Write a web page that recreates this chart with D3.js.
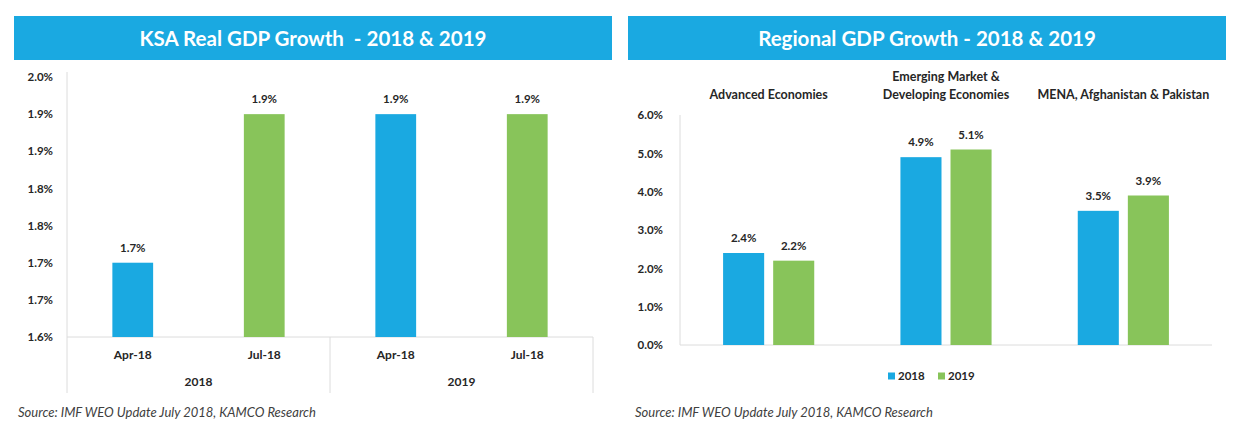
<!DOCTYPE html>
<head>
<meta charset="utf-8">
<style>
body { margin: 0; background: #fff; }
svg { display: block; }
text { font-family: Lato, "Open Sans", sans-serif; font-weight: bold; fill: #262626; }
.title { fill: #fff; font-size: 20.5px; white-space: pre; }
.tick text { font-size: 11.5px; }
.val { font-size: 11.5px; text-anchor: middle; }
.cat { font-size: 12px; text-anchor: middle; }
.head { font-size: 12.5px; }
.src { font-size: 13px; font-style: italic; font-weight: normal; fill: #404040; }
.faint { stroke: #dcdcdc; stroke-width: 1px; }
</style>
</head>
<body>
<script src="https://cdnjs.cloudflare.com/ajax/libs/d3/7.8.5/d3.min.js"></script>
<script>
// ---- data: KSA chart
var ksaMonths = ["Apr-18", "Jul-18", "Apr-18", "Jul-18"];
var ksaYears = ["2018", "2018", "2019", "2019"];
var ksaValues = [1.75, 1.95, 1.95, 1.95];
var ksaLabels = ["1.7%", "1.9%", "1.9%", "1.9%"];
var ksaTicks = [1.65, 1.70, 1.75, 1.80, 1.85, 1.90, 1.95, 2.00];
var ksaTickLabels = ["1.6%", "1.7%", "1.7%", "1.8%", "1.8%", "1.9%", "1.9%", "2.0%"];
var ksaColors = ["#1aa9e1", "#88c45a", "#1aa9e1", "#88c45a"];

// ---- data: regional chart
var regions = ["Advanced Economies", "Emerging Market &\nDeveloping Economies", "MENA, Afghanistan & Pakistan"];
var seriesNames = ["2018", "2019"];
var growth2018 = [2.4, 4.9, 3.5];
var growth2019 = [2.2, 5.1, 3.9];
var regTicks = [0, 1, 2, 3, 4, 5, 6];

var blue = "#1aa9e1", green = "#88c45a", barBlue = "#1aa9e1";
var source = "Source: IMF WEO Update July 2018, KAMCO Research";

var svg = d3.select("body").append("svg")
    .attr("width", 1241)
    .attr("height", 422);

// title bars
function titleBar(x0, x1, label) {
  svg.append("rect")
      .attr("x", x0).attr("y", 16)
      .attr("width", x1 - x0).attr("height", 44)
      .style("fill", blue);
  svg.append("text")
      .classed("title", true)
      .attr("x", (x0 + x1) / 2).attr("y", 39)
      .attr("dy", "0.35em")
      .style("text-anchor", "middle")
      .text(label);
}
titleBar(14, 612, "KSA Real GDP Growth  - 2018 & 2019");
titleBar(628, 1226, "Regional GDP Growth - 2018 & 2019");

// ================= left chart =================
var left = svg.append("g");
var xL = d3.scaleBand()
    .domain(d3.range(ksaValues.length))
    .range([67, 593])
    .paddingInner(0.69)
    .paddingOuter(0.345);
var yL = d3.scaleLinear().domain([1.65, 2.0]).range([337, 77]);

left.append("g")
    .attr("transform", "translate(56,0)")
    .call(d3.axisLeft(yL).tickValues(ksaTicks).tickSize(0)
      .tickFormat(function (d, i) { return ksaTickLabels[i]; }))
    .call(function (g) { g.select(".domain").remove(); });

// faint frame of the category axis
left.append("line").classed("faint", true)
    .attr("x1", 67).attr("x2", 67).attr("y1", 72).attr("y2", 393);
left.append("line").classed("faint", true)
    .attr("x1", 67).attr("x2", 593).attr("y1", yL(1.65)).attr("y2", yL(1.65));
var yearGroups = Array.from(new Set(ksaYears));
yearGroups.forEach(function (yr) {
  var idx = ksaYears.map(function (d, i) { return d === yr ? i : -1; }).filter(function (i) { return i >= 0; });
  var gx0 = xL(idx[0]) - xL.step() * xL.paddingInner() / 2;
  var gx1 = xL(idx[idx.length - 1]) + xL.bandwidth() + xL.step() * xL.paddingInner() / 2;
  left.append("line").classed("faint", true)
      .attr("x1", gx1).attr("x2", gx1).attr("y1", yL(1.65)).attr("y2", 393);
  left.append("text").classed("cat", true)
      .attr("x", (gx0 + gx1) / 2).attr("y", 382).attr("dy", "0.35em")
      .text(yr);
});

left.selectAll("rect.bar")
    .data(ksaValues)
  .enter().append("rect")
    .attr("class", "bar")
    .attr("x", function (d, i) { return xL(i); })
    .attr("width", xL.bandwidth())
    .attr("y", function (d) { return yL(d); })
    .attr("height", function (d) { return yL(1.65) - yL(d); })
    .style("fill", function (d, i) { return ksaColors[i]; });

left.selectAll("text.val")
    .data(ksaValues)
  .enter().append("text")
    .attr("class", "val")
    .attr("x", function (d, i) { return xL(i) + xL.bandwidth() / 2; })
    .attr("y", function (d) { return yL(d) - 15; })
    .attr("dy", "0.35em")
    .text(function (d, i) { return ksaLabels[i]; });

left.selectAll("text.month")
    .data(ksaMonths)
  .enter().append("text")
    .attr("class", "cat month")
    .attr("x", function (d, i) { return xL(i) + xL.bandwidth() / 2; })
    .attr("y", 355).attr("dy", "0.35em")
    .text(function (d) { return d; });

left.append("text").classed("src", true)
    .attr("x", 18).attr("y", 412).attr("dy", "0.35em")
    .text(source);

// ================= right chart =================
var right = svg.append("g");
var x0 = d3.scaleBand().domain(regions).range([680, 1212]);
var x1 = d3.scaleBand().domain(seriesNames)
    .range([x0.bandwidth() * 0.243, x0.bandwidth() * 0.757])
    .paddingInner(0.18);
var yR = d3.scaleLinear().domain([0, 6]).range([345, 115]);

right.append("g")
    .attr("transform", "translate(666,0)")
    .call(d3.axisLeft(yR).tickValues(regTicks).tickSize(0)
      .tickFormat(function (d) { return d3.format(".1f")(d) + "%"; }))
    .call(function (g) { g.select(".domain").remove(); });

right.append("line").classed("faint", true)
    .attr("x1", 680).attr("x2", 680).attr("y1", yR(6)).attr("y2", yR(0));
right.append("line").classed("faint", true)
    .attr("x1", 680).attr("x2", 1212).attr("y1", yR(0)).attr("y2", yR(0));

var rows = regions.map(function (r, i) {
  return { region: r, values: [growth2018[i], growth2019[i]] };
});

var grp = right.selectAll("g.region")
    .data(rows)
  .enter().append("g")
    .attr("class", "region")
    .attr("transform", function (d) { return "translate(" + x0(d.region) + ",0)"; });

grp.selectAll("rect")
    .data(function (d) { return d.values.map(function (v, j) { return { key: seriesNames[j], v: v }; }); })
  .enter().append("rect")
    .attr("x", function (d) { return x1(d.key); })
    .attr("width", x1.bandwidth())
    .attr("y", function (d) { return yR(d.v); })
    .attr("height", function (d) { return yR(0) - yR(d.v); })
    .style("fill", function (d) { return d.key === "2018" ? barBlue : green; });

grp.selectAll("text.val")
    .data(function (d) { return d.values.map(function (v, j) { return { key: seriesNames[j], v: v }; }); })
  .enter().append("text")
    .attr("class", "val")
    .attr("x", function (d) { return x1(d.key) + x1.bandwidth() / 2; })
    .attr("y", function (d) { return yR(d.v) - 15; })
    .attr("dy", "0.35em")
    .text(function (d) { return d3.format(".1f")(d.v) + "%"; });

// region names on top
grp.each(function (d) {
  var lines = d.region.split("\n");
  var t = d3.select(this).append("text")
      .attr("class", "cat head")
      .attr("x", x0.bandwidth() / 2);
  lines.forEach(function (ln, k) {
    t.append("tspan")
        .attr("x", x0.bandwidth() / 2)
        .attr("y", 95 - (lines.length - 1 - k) * 18)
        .attr("dy", "0.35em")
        .text(ln);
  });
});

// legend
var legend = right.append("g").attr("transform", "translate(888,376)");
seriesNames.forEach(function (s, i) {
  var lg = legend.append("g").attr("transform", "translate(" + (i * 50) + ",0)");
  lg.append("rect")
      .attr("x", 0).attr("y", -3.5).attr("width", 7).attr("height", 7)
      .style("fill", i === 0 ? barBlue : green);
  lg.append("text")
      .attr("x", 10).attr("y", 0).attr("dy", "0.35em")
      .style("font-size", "11.5px")
      .text(s);
});

right.append("text").classed("src", true)
    .attr("x", 635).attr("y", 412).attr("dy", "0.35em")
    .text(source);
</script>
</body>
